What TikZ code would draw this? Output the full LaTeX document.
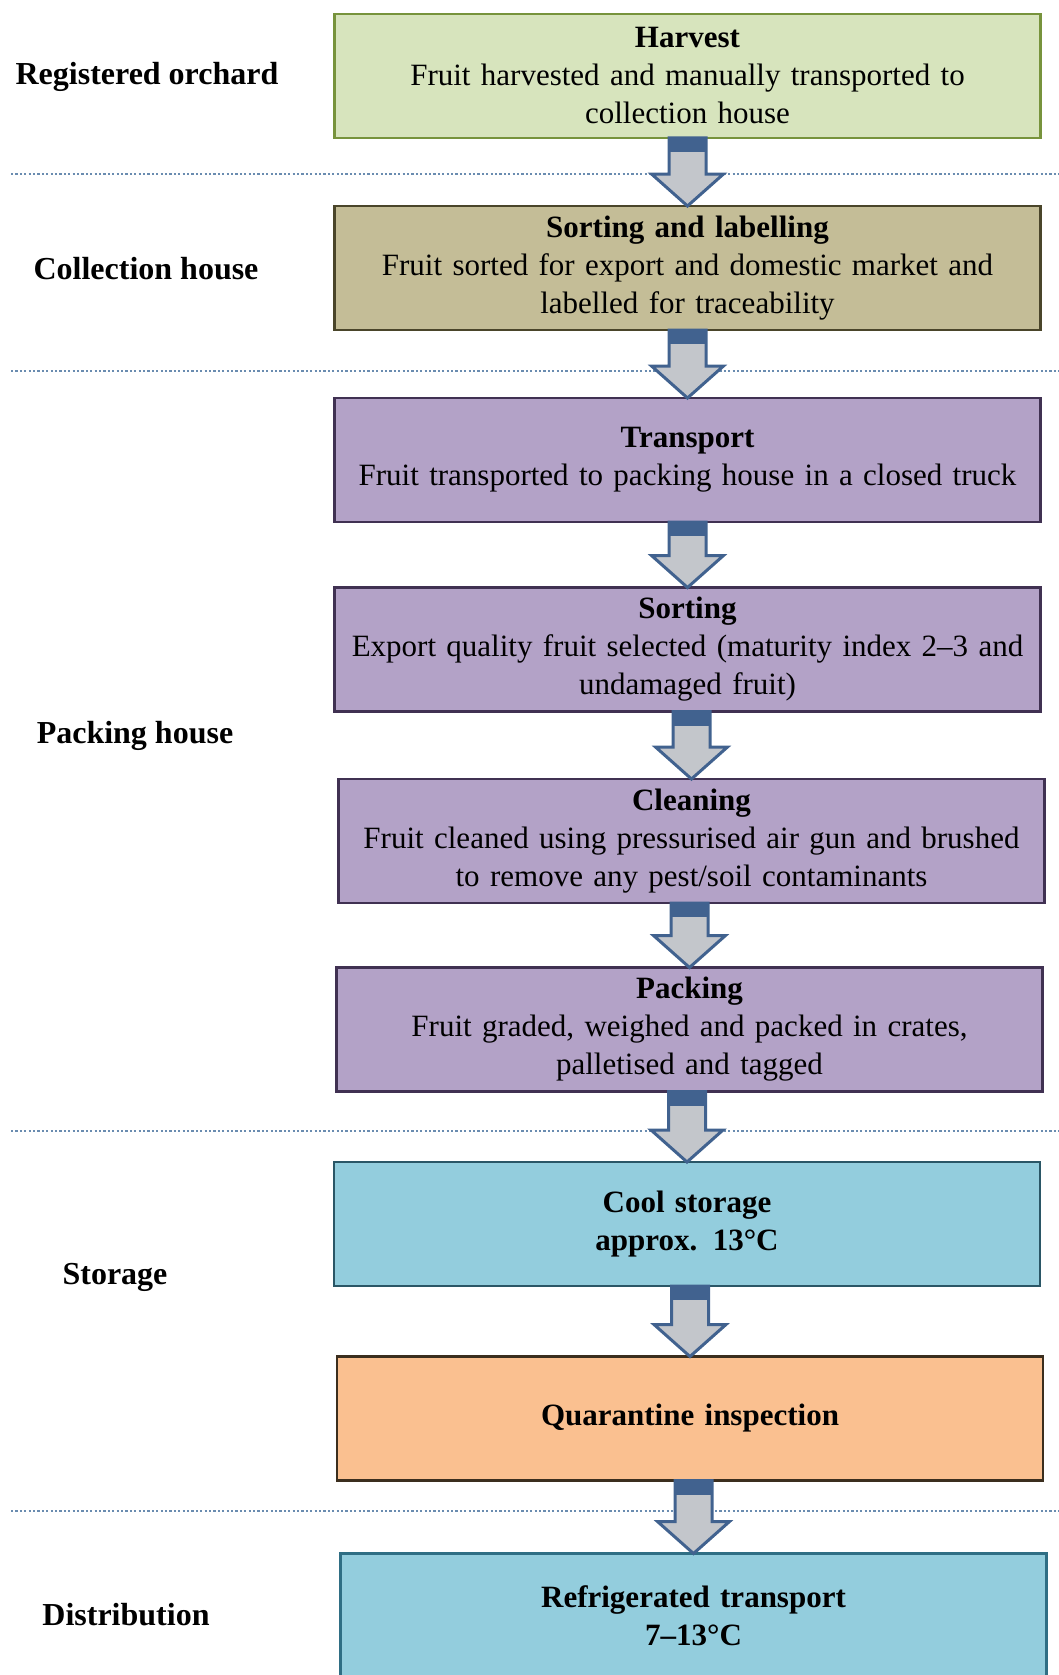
\documentclass[tikz,border=0pt]{standalone}
\usepackage{fontspec}
\setmainfont{Liberation Serif}
\usepackage{xcolor}
\usetikzlibrary{positioning, calc}
\definecolor{orchardfill}{HTML}{D7E4BD}
\definecolor{orchardline}{HTML}{77933C}
\definecolor{collectfill}{HTML}{C4BD97}
\definecolor{collectline}{HTML}{4A452A}
\definecolor{packfill}{HTML}{B3A2C7}
\definecolor{packline}{HTML}{403152}
\definecolor{storefill}{HTML}{93CDDD}
\definecolor{storeline}{HTML}{2A5666}
\definecolor{quarfill}{HTML}{FAC090}
\definecolor{quarline}{HTML}{3B2E1E}
\definecolor{distline}{HTML}{2F6E84}
\definecolor{arrowblue}{HTML}{41628F}
\definecolor{arrowgrey}{HTML}{C3C6CB}
\definecolor{sepblue}{HTML}{6A8CB0}
\tikzset{
  stage/.style={
    draw, line width=2.5pt, outer sep=0pt,
    minimum width=706pt, minimum height=124pt,
    text width=700pt, align=center, inner sep=0pt,
    font=\fontsize{31}{38}\selectfont,
  },
  orchardbox/.style={stage, fill=orchardfill, draw=orchardline},
  collectbox/.style={stage, fill=collectfill, draw=collectline},
  packbox/.style={stage, fill=packfill, draw=packline},
  storebox/.style={stage, fill=storefill, draw=storeline},
  quarbox/.style={stage, fill=quarfill, draw=quarline},
  distbox/.style={stage, fill=storefill, draw=distline},
  zone/.style={font=\fontsize{32}{38}\selectfont\bfseries, inner sep=0pt},
  sepline/.style={draw=sepblue, line width=2.2pt, dash pattern=on 2.2pt off 2.2pt},
  flowarrow/.style={fill=arrowgrey, draw=arrowblue, line width=3pt, line join=miter},
}
% block arrow from the bottom of one stage to the top of the next
\newcommand{\flowarrow}[2]{%
  \draw[flowarrow] let \p1=(#1.south), \p2=(#2.north) in
    (\x2-18.5pt,\y1) -- (\x2+18.5pt,\y1) -- (\x2+18.5pt,\y2+32pt)
    -- (\x2+36pt,\y2+32pt) -- (\x2,\y2) -- (\x2-36pt,\y2+32pt)
    -- (\x2-18.5pt,\y2+32pt) -- cycle;
  \fill[arrowblue] let \p1=(#1.south), \p2=(#2.north) in
    (\x2-18.5pt,\y1) rectangle (\x2+18.5pt,\y1-14pt);
}
\begin{document}
\begin{tikzpicture}[x=1pt, y=-1pt]
\useasboundingbox (0,0) rectangle (1059,1675);

% zone separators
\draw[sepline] (11,174) -- (1059,174);
\draw[sepline] (11,371) -- (1059,371);
\draw[sepline] (11,1131) -- (1059,1131);
\draw[sepline] (11,1511) -- (1059,1511);

% zones
\node[zone] (orchard) at (147,77) {Registered orchard};
\node[zone] (collection) at (146,269) {Collection house};
\node[zone] (packinghouse) at (135,736) {Packing house};
\node[zone] (storage) at (115,1277) {Storage};
\node[zone] (distribution) at (126,1615) {Distribution};

% stages
\node[orchardbox] (harvest) at (687.5,76) {\textbf{Harvest}\\
Fruit harvested and manually transported to\\ collection house};
\node[collectbox, below=68pt of harvest] (labelling) {\textbf{Sorting and labelling}\\
Fruit sorted for export and domestic market and\\ labelled for traceability};
\node[packbox, below=68pt of labelling] (transport) {\textbf{Transport}\\
Fruit transported to packing house in a closed truck};
\node[packbox, below=65.5pt of transport] (sorting) {\textbf{Sorting}\\
Export quality fruit selected (maturity index 2--3 and\\ undamaged fruit)};
\node[packbox, below=67.5pt of sorting, xshift=4pt] (cleaning) {\textbf{Cleaning}\\
Fruit cleaned using pressurised air gun and brushed\\ to remove any pest/soil contaminants};
\node[packbox, below=64.5pt of cleaning, xshift=-2pt] (packing) {\textbf{Packing}\\
Fruit graded, weighed and packed in crates,\\ palletised and tagged};
\node[storebox, below=70.5pt of packing, xshift=-2.5pt] (cool) {\textbf{Cool storage}\\
\textbf{approx. 13°C}};
\node[quarbox, below=70.5pt of cool, xshift=3pt] (quarantine) {\textbf{Quarantine inspection}};
\node[distbox, below=73pt of quarantine, xshift=3.5pt] (refrig) {\textbf{Refrigerated transport}\\
\textbf{7--13°C}};

% arrows
\flowarrow{harvest}{labelling}
\flowarrow{labelling}{transport}
\flowarrow{transport}{sorting}
\flowarrow{sorting}{cleaning}
\flowarrow{cleaning}{packing}
\flowarrow{packing}{cool}
\flowarrow{cool}{quarantine}
\flowarrow{quarantine}{refrig}
\end{tikzpicture}
\end{document}
